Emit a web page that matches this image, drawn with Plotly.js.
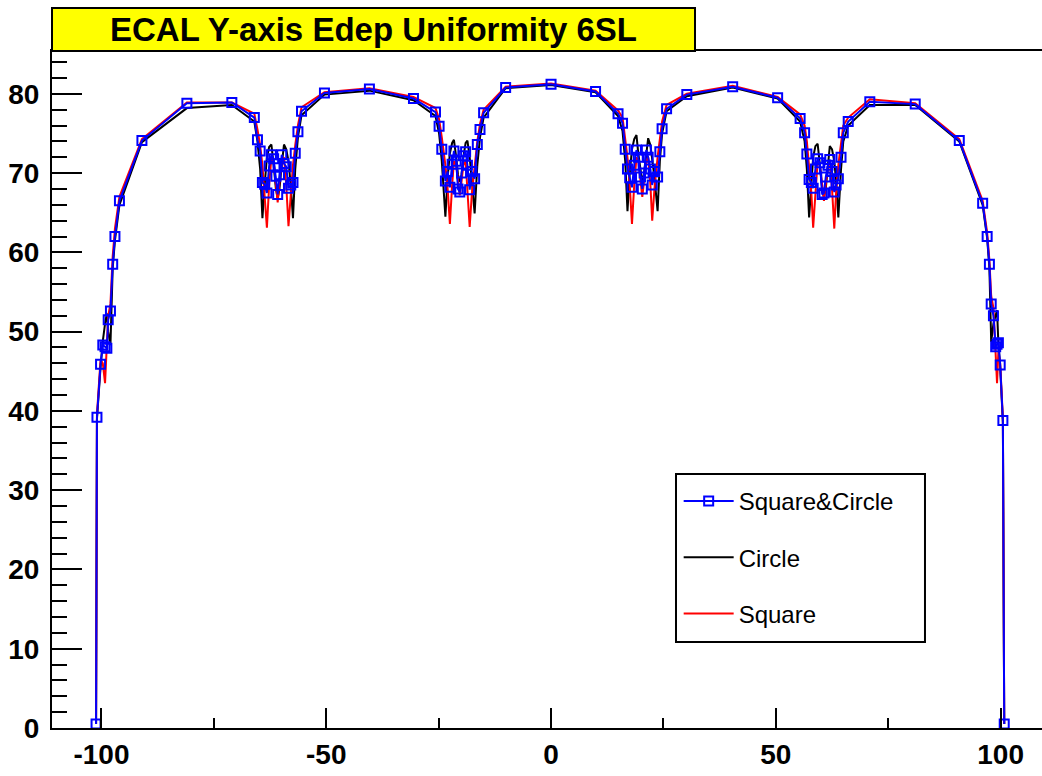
<!DOCTYPE html>
<html>
<head>
<meta charset="utf-8">
<script src="https://cdn.plot.ly/plotly-3.0.1.min.js"></script>
<style>html,body{margin:0;padding:0;background:#fff;}#chart{width:1042px;height:776px;}</style>
</head>
<body>
<div id="chart"></div>
<script>
// Scan positions (shared by all three series)
const xPos = [
  -101.2, -101.0, -100.2, -99.7, -99.2, -98.8, -98.5, -98.0, -97.5, -97.0, -96.0,
  -91, -81, -71,
  -66.0, -65.3, -64.7, -64.2, -63.7, -63.2, -62.7, -62.2, -61.7, -61.2, -60.8, -60.4, -59.9, -59.4, -58.9, -58.4, -57.9, -57.4, -56.9, -56.3, -55.5,
  -50.4, -40.4, -30.6,
  -25.7, -24.9, -24.3, -23.5, -23.0, -22.5, -22.0, -21.6, -21.1, -20.7, -20.3, -19.9, -19.5, -19.0, -18.6, -18.1, -17.6, -17.0, -16.4, -15.8, -15.0,
  -10.1, 0, 9.9,
  14.9, 15.9, 16.5, 17.0, 17.5, 18.0, 18.5, 19.0, 19.4, 19.9, 20.3, 20.7, 21.2, 21.6, 22.1, 22.5, 23.0, 23.7, 24.2, 24.7, 25.7,
  30.2, 40.4, 50.4,
  55.4, 56.4, 56.9, 57.4, 57.9, 58.3, 58.8, 59.3, 59.8, 60.3, 60.7, 61.1, 61.6, 62.0, 62.5, 63.0, 63.4, 63.9, 64.5, 65.0, 66.1,
  70.9, 81.0, 90.8,
  96.0, 97.0, 97.5, 97.9, 98.4, 98.9, 99.2, 99.5, 99.9, 100.5, 100.8
];

// Square&Circle (blue, with square markers)
const edepBoth = [
  0.5, 39.2, 45.9, 48.3, 48.1, 47.9, 51.5, 52.6, 58.5, 62.0, 66.5,
  74.1, 78.8, 78.9,
  77.0, 74.2, 72.8, 68.8, 68.6, 67.5, 70.9, 72.3, 71.8, 69.6, 67.3, 69.8, 72.3, 71.2, 70.8, 68.1, 68.5, 68.8, 72.5, 75.2, 77.8,
  80.1, 80.6, 79.4,
  77.7, 75.9, 73.0, 69.0, 70.2, 68.2, 71.1, 72.8, 71.5, 68.0, 67.6, 70.0, 72.2, 72.7, 71.0, 67.9, 70.2, 69.3, 73.6, 75.5, 77.6,
  80.8, 81.2, 80.3,
  77.5, 76.3, 73.0, 70.5, 69.4, 68.2, 71.0, 72.9, 72.0, 69.5, 68.0, 70.0, 72.9, 72.0, 70.5, 68.5, 70.2, 69.5, 72.7, 75.6, 78.1,
  79.9, 80.9, 79.5,
  76.9, 75.1, 72.4, 69.2, 68.8, 68.1, 70.5, 71.8, 71.3, 67.3, 67.5, 69.5, 71.0, 71.7, 70.2, 67.6, 68.5, 69.3, 72.0, 75.1, 76.5,
  79.0, 78.7, 74.1,
  66.2, 62.0, 58.5, 53.5, 52.0, 48.1, 48.4, 48.6, 45.8, 38.8, 0.5
];

// Circle (black line)
const edepCircle = [
  0.5, 39.0, 45.5, 48.8, 51.0, 52.3, 50.0, 48.3, 58.0, 61.5, 66.0,
  73.9, 78.2, 78.6,
  76.5, 74.0, 70.5, 64.3, 68.5, 72.0, 73.3, 73.6, 71.0, 68.0, 66.8, 68.0, 71.0, 73.6, 73.0, 71.5, 68.5, 64.3, 70.5, 74.5, 77.3,
  79.9, 80.4, 79.2,
  77.2, 75.0, 71.5, 64.5, 69.5, 72.5, 73.8, 74.2, 72.0, 69.8, 68.9, 69.8, 72.0, 73.8, 74.1, 72.0, 69.0, 64.9, 71.0, 74.5, 77.0,
  80.7, 81.1, 80.2,
  77.2, 75.3, 71.5, 65.2, 70.0, 73.0, 74.3, 74.8, 72.5, 70.0, 68.8, 70.0, 72.5, 74.4, 73.5, 72.0, 69.5, 65.2, 71.5, 75.0, 77.8,
  79.7, 80.8, 79.4,
  76.5, 74.0, 70.5, 64.4, 69.5, 72.0, 73.4, 73.7, 71.0, 68.0, 67.0, 68.0, 71.0, 73.4, 73.0, 71.5, 69.0, 64.4, 70.5, 74.0, 76.0,
  78.6, 78.6, 74.0,
  66.0, 61.8, 58.0, 48.7, 51.0, 52.0, 52.7, 48.5, 45.5, 38.5, 0.5
];

// Square (red line)
const edepSquare = [
  0.5, 39.5, 46.5, 46.0, 43.5, 48.0, 52.0, 53.5, 59.5, 63.0, 67.0,
  74.3, 78.9, 78.9,
  77.5, 75.5, 73.5, 71.0, 67.5, 63.1, 68.5, 72.0, 71.5, 69.0, 66.3, 69.0, 71.5, 72.0, 68.5, 63.3, 67.5, 71.0, 73.5, 76.0, 78.3,
  80.2, 80.7, 79.6,
  78.2, 76.8, 74.5, 71.0, 68.0, 63.6, 68.5, 71.5, 71.0, 69.0, 67.2, 69.0, 71.0, 71.5, 68.0, 63.2, 67.5, 71.0, 74.0, 76.2, 78.0,
  80.9, 81.3, 80.4,
  77.9, 77.0, 74.5, 72.0, 68.5, 63.6, 68.5, 72.0, 71.5, 69.0, 67.0, 69.0, 71.5, 72.0, 68.5, 64.0, 68.0, 72.0, 74.5, 76.5, 78.6,
  80.0, 81.0, 79.6,
  77.4, 76.0, 74.0, 71.0, 67.5, 63.1, 68.0, 71.5, 71.0, 68.5, 66.5, 68.5, 71.0, 71.5, 68.0, 63.0, 67.5, 71.0, 73.5, 76.0, 77.0,
  79.3, 78.8, 74.3,
  66.5, 62.5, 59.0, 54.5, 53.0, 47.5, 43.5, 47.5, 46.0, 39.0, 0.5
];

const seriesNames = ['Square&Circle', 'Circle', 'Square'];
const titleText = 'ECAL Y-axis Edep Uniformity 6SL';
const xTickVals = [-100, -50, 0, 50, 100];
const xTickText = ['-100', '-50', '0', '50', '100'];
const FONT = 'Liberation Sans, Arial, Helvetica, sans-serif';

const traces = [
  {x: xPos, y: edepCircle, name: seriesNames[1], mode: 'lines', type: 'scatter',
   line: {color: '#000000', width: 2}, legendrank: 2, legendgroup: 'b'},
  {x: xPos, y: edepSquare, name: seriesNames[2], mode: 'lines', type: 'scatter',
   line: {color: '#ff0000', width: 2}, legendrank: 3, legendgroup: 'c'},
  {x: xPos, y: edepBoth, name: seriesNames[0], mode: 'lines+markers', type: 'scatter',
   line: {color: '#0000ff', width: 2},
   marker: {symbol: 'square-open', size: 9, color: '#0000ff', line: {width: 2, color: '#0000ff'}},
   legendrank: 1, legendgroup: 'a'}
];

const layout = {
  width: 1042, height: 776,
  margin: {l: 52, r: 0, t: 51, b: 48, pad: 0},
  paper_bgcolor: '#ffffff', plot_bgcolor: '#ffffff',
  font: {family: FONT, color: '#000'},
  showlegend: true,
  legend: {
    x: 0.633, y: 0.3678, xanchor: 'left', yanchor: 'top',
    bgcolor: 'rgba(0,0,0,0)', borderwidth: 0,
    font: {family: FONT, size: 24, color: '#000'},
    tracegroupgap: 22, itemwidth: 50, traceorder: 'grouped'
  },
  xaxis: {
    range: [-111.0, 109.2], showgrid: false, zeroline: false,
    showline: true, linecolor: '#000', linewidth: 2, mirror: true,
    ticks: 'inside', ticklen: 20, tickwidth: 2, tickcolor: '#000',
    tickmode: 'array', tickvals: xTickVals, ticktext: xTickText,
    minor: {ticks: 'inside', ticklen: 10, tickwidth: 2, tickcolor: '#000', tickmode: 'linear', dtick: 25, tick0: 0, showgrid: false},
    tickfont: {family: FONT, size: 28, weight: 'bold', color: '#000'}
  },
  yaxis: {
    range: [0, 85.4], showgrid: false, zeroline: false,
    showline: true, linecolor: '#000', linewidth: 2, mirror: false,
    ticks: 'inside', ticklen: 30, tickwidth: 2, tickcolor: '#000',
    tickmode: 'linear', tick0: 0, dtick: 10, ticklabelstandoff: 5,
    minor: {ticks: 'inside', ticklen: 15, tickwidth: 2, tickcolor: '#000', dtick: 2, tick0: 0, showgrid: false},
    tickfont: {family: FONT, size: 28, weight: 'bold', color: '#000'}
  },
  shapes: [
    {type: 'rect', xref: 'paper', yref: 'paper', x0: 0, x1: 0.6495, y0: 1.0, y1: 1.0635,
     fillcolor: '#ffff00', line: {color: '#000', width: 2}, layer: 'above'},
    {type: 'rect', xref: 'paper', yref: 'paper', x0: 0.6303, x1: 0.8818, y0: 0.1270, y1: 0.3752,
     fillcolor: '#ffffff', line: {color: '#000', width: 2}, layer: 'below'}
  ],
  annotations: [
    {xref: 'paper', yref: 'paper', x: 0.3247, y: 1.0318, xanchor: 'center', yanchor: 'middle',
     text: titleText, showarrow: false,
     font: {family: FONT, size: 33, weight: 'bold', color: '#000'}}
  ]
};

Plotly.newPlot('chart', traces, layout, {displayModeBar: false, staticPlot: true});
</script>
</body>
</html>
